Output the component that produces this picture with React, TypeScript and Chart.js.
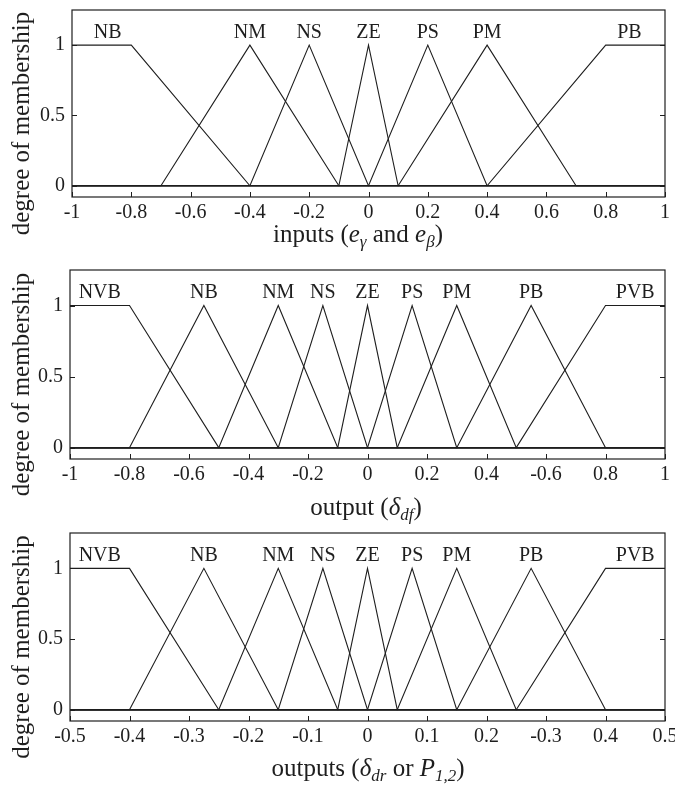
import React, { useEffect, useRef } from "react";
import { Chart, registerables } from "chart.js";

Chart.register(...registerables);

// ---------- Panel 1: inputs ----------
const p1Names = ["NB", "NM", "NS", "ZE", "PS", "PM", "PB"];
const p1Xs = [
  [-1, -0.8, -0.4, 1],
  [-1, -0.7, -0.4, -0.1, 1],
  [-1, -0.4, -0.2, 0, 1],
  [-1, -0.1, 0, 0.1, 1],
  [-1, 0, 0.2, 0.4, 1],
  [-1, 0.1, 0.4, 0.7, 1],
  [-1, 0.4, 0.8, 1],
];
const p1Mus = [
  [1, 1, 0, 0],
  [0, 0, 1, 0, 0],
  [0, 0, 1, 0, 0],
  [0, 0, 1, 0, 0],
  [0, 0, 1, 0, 0],
  [0, 0, 1, 0, 0],
  [0, 0, 1, 1],
];
const p1LabelAt = [-0.88, -0.4, -0.2, 0, 0.2, 0.4, 0.88];
const p1XTicks = [-1, -0.8, -0.6, -0.4, -0.2, 0, 0.2, 0.4, 0.6, 0.8, 1];
const p1XTickLabels = ["-1", "-0.8", "-0.6", "-0.4", "-0.2", "0", "0.2", "0.4", "0.6", "0.8", "1"];

// ---------- Panel 2: output delta_df ----------
const p2Names = ["NVB", "NB", "NM", "NS", "ZE", "PS", "PM", "PB", "PVB"];
const p2Xs = [
  [-1, -0.8, -0.5, 1],
  [-1, -0.8, -0.55, -0.3, 1],
  [-1, -0.5, -0.3, -0.1, 1],
  [-1, -0.3, -0.15, 0, 1],
  [-1, -0.1, 0, 0.1, 1],
  [-1, 0, 0.15, 0.3, 1],
  [-1, 0.1, 0.3, 0.5, 1],
  [-1, 0.3, 0.55, 0.8, 1],
  [-1, 0.5, 0.8, 1],
];
const p2Mus = [
  [1, 1, 0, 0],
  [0, 0, 1, 0, 0],
  [0, 0, 1, 0, 0],
  [0, 0, 1, 0, 0],
  [0, 0, 1, 0, 0],
  [0, 0, 1, 0, 0],
  [0, 0, 1, 0, 0],
  [0, 0, 1, 0, 0],
  [0, 0, 1, 1],
];
const p2LabelAt = [-0.9, -0.55, -0.3, -0.15, 0, 0.15, 0.3, 0.55, 0.9];
const p2XTicks = [-1, -0.8, -0.6, -0.4, -0.2, 0, 0.2, 0.4, 0.6, 0.8, 1];
const p2XTickLabels = ["-1", "-0.8", "-0.6", "-0.4", "-0.2", "0", "0.2", "0.4", "-0.6", "0.8", "1"];

// ---------- Panel 3: outputs delta_dr or P1,2 ----------
const p3Names = ["NVB", "NB", "NM", "NS", "ZE", "PS", "PM", "PB", "PVB"];
const p3Xs = [
  [-0.5, -0.4, -0.25, 0.5],
  [-0.5, -0.4, -0.275, -0.15, 0.5],
  [-0.5, -0.25, -0.15, -0.05, 0.5],
  [-0.5, -0.15, -0.075, 0, 0.5],
  [-0.5, -0.05, 0, 0.05, 0.5],
  [-0.5, 0, 0.075, 0.15, 0.5],
  [-0.5, 0.05, 0.15, 0.25, 0.5],
  [-0.5, 0.15, 0.275, 0.4, 0.5],
  [-0.5, 0.25, 0.4, 0.5],
];
const p3Mus = [
  [1, 1, 0, 0],
  [0, 0, 1, 0, 0],
  [0, 0, 1, 0, 0],
  [0, 0, 1, 0, 0],
  [0, 0, 1, 0, 0],
  [0, 0, 1, 0, 0],
  [0, 0, 1, 0, 0],
  [0, 0, 1, 0, 0],
  [0, 0, 1, 1],
];
const p3LabelAt = [-0.45, -0.275, -0.15, -0.075, 0, 0.075, 0.15, 0.275, 0.45];
const p3XTicks = [-0.5, -0.4, -0.3, -0.2, -0.1, 0, 0.1, 0.2, 0.3, 0.4, 0.5];
const p3XTickLabels = ["-0.5", "-0.4", "-0.3", "-0.2", "-0.1", "0", "0.1", "0.2", "-0.3", "0.4", "0.5"];

// shared y axis
const yTicks = [0, 0.5, 1];
const yTickLabels = ["0", "0.5", "1"];
const yTitle = "degree of membership";

type Run = { t: string; it?: boolean; sub?: boolean };
const p1Title: Run[] = [
  { t: "inputs (" },
  { t: "e", it: true },
  { t: "γ", it: true, sub: true },
  { t: " and " },
  { t: "e", it: true },
  { t: "β", it: true, sub: true },
  { t: ")" },
];
const p2Title: Run[] = [
  { t: "output (" },
  { t: "δ", it: true },
  { t: "df", it: true, sub: true },
  { t: ")" },
];
const p3Title: Run[] = [
  { t: "outputs (" },
  { t: "δ", it: true },
  { t: "dr", it: true, sub: true },
  { t: " or " },
  { t: "P", it: true },
  { t: "1,2", it: true, sub: true },
  { t: ")" },
];

const INK = "#1e1e1e";
const SERIF = "'Liberation Serif', 'Times New Roman', serif";
const W = 675;
const H = 262;

type Spec = {
  names: string[];
  xs: number[][];
  mus: number[][];
  labelAt: number[];
  xTicks: number[];
  xTickLabels: string[];
  xMin: number;
  xMax: number;
  title: Run[];
  area: { left: number; right: number; top: number; bottom: number };
  titleX: number;
  titleY: number;
  yTitleDy: number;
  canvasTop: number;
};

const specs: Spec[] = [
  {
    names: p1Names, xs: p1Xs, mus: p1Mus, labelAt: p1LabelAt,
    xTicks: p1XTicks, xTickLabels: p1XTickLabels, xMin: -1, xMax: 1,
    title: p1Title,
    area: { left: 72, right: 665, top: 10, bottom: 197 },
    titleX: 358, titleY: 242, yTitleDy: 20, canvasTop: 0,
  },
  {
    names: p2Names, xs: p2Xs, mus: p2Mus, labelAt: p2LabelAt,
    xTicks: p2XTicks, xTickLabels: p2XTickLabels, xMin: -1, xMax: 1,
    title: p2Title,
    area: { left: 70, right: 665, top: 8, bottom: 197 },
    titleX: 366, titleY: 253, yTitleDy: 20, canvasTop: 262,
  },
  {
    names: p3Names, xs: p3Xs, mus: p3Mus, labelAt: p3LabelAt,
    xTicks: p3XTicks, xTickLabels: p3XTickLabels, xMin: -0.5, xMax: 0.5,
    title: p3Title,
    area: { left: 70, right: 665, top: 9, bottom: 197 },
    titleX: 368, titleY: 252, yTitleDy: 20, canvasTop: 524,
  },
];

function drawRich(ctx: CanvasRenderingContext2D, runs: Run[], cx: number, baseY: number) {
  const big = 25;
  const small = 17;
  const fontOf = (r: Run) => `${r.it ? "italic " : ""}${r.sub ? small : big}px ${SERIF}`;
  let total = 0;
  const widths = runs.map((r) => {
    ctx.font = fontOf(r);
    const w = ctx.measureText(r.t).width;
    total += w;
    return w;
  });
  let x = cx - total / 2;
  ctx.textAlign = "left";
  ctx.textBaseline = "alphabetic";
  runs.forEach((r, i) => {
    ctx.font = fontOf(r);
    ctx.fillText(r.t, x, r.sub ? baseY + 5 : baseY);
    x += widths[i];
  });
}

function makeDecor(spec: Spec) {
  return {
    id: "decor",
    afterDraw(chart: any) {
      const { ctx, chartArea, scales } = chart;
      const { left, right, top, bottom } = chartArea;
      const xs = scales.x;
      const ys = scales.y;
      ctx.save();
      ctx.strokeStyle = INK;
      ctx.lineWidth = 1.2;
      ctx.strokeRect(left, top, right - left, bottom - top);
      ctx.lineWidth = 1;
      ctx.beginPath();
      yTicks.forEach((v) => {
        const py = Math.round(ys.getPixelForValue(v)) + 0.5;
        ctx.moveTo(left, py);
        ctx.lineTo(left + 5, py);
        ctx.moveTo(right - 5, py);
        ctx.lineTo(right, py);
      });
      spec.xTicks.forEach((v) => {
        const px = Math.round(xs.getPixelForValue(v)) + 0.5;
        ctx.moveTo(px, bottom);
        ctx.lineTo(px, bottom - 5);
      });
      ctx.stroke();

      ctx.fillStyle = INK;
      ctx.font = `20px ${SERIF}`;
      ctx.textAlign = "center";
      ctx.textBaseline = "alphabetic";
      spec.names.forEach((n, i) => {
        ctx.fillText(n, xs.getPixelForValue(spec.labelAt[i]), ys.getPixelForValue(1.05));
      });

      drawRich(ctx, spec.title, spec.titleX, spec.titleY);

      ctx.save();
      ctx.translate(22, (top + bottom) / 2 + spec.yTitleDy);
      ctx.rotate(-Math.PI / 2);
      ctx.font = `25px ${SERIF}`;
      ctx.textAlign = "center";
      ctx.textBaseline = "middle";
      ctx.fillText(yTitle, 0, 0);
      ctx.restore();
      ctx.restore();
    },
  };
}

function Panel({ spec }: { spec: Spec }) {
  const ref = useRef<HTMLCanvasElement>(null);
  useEffect(() => {
    const canvas = ref.current!;
    const datasets = spec.names.map((n, i) => ({
      label: n,
      data: spec.xs[i].map((x, j) => ({ x, y: spec.mus[i][j] })),
      borderColor: INK,
      borderWidth: 1.1,
      pointRadius: 0,
      tension: 0,
      fill: false,
      showLine: true,
    }));
    const chart = new Chart(canvas, {
      type: "line",
      data: { datasets },
      options: {
        animation: false,
        responsive: false,
        devicePixelRatio: 1,
        events: [],
        layout: {
          padding: { top: spec.area.top, right: W - spec.area.right, left: 0, bottom: 0 },
        },
        plugins: { legend: { display: false }, tooltip: { enabled: false } },
        scales: {
          x: {
            type: "linear",
            min: spec.xMin,
            max: spec.xMax,
            grid: { display: false, drawTicks: false },
            border: { display: false },
            afterBuildTicks: (s: any) => {
              s.ticks = spec.xTicks.map((v) => ({ value: v }));
            },
            afterFit: (s: any) => {
              s.height = H - spec.area.bottom;
              s.paddingLeft = 0;
              s.paddingRight = 0;
            },
            ticks: {
              autoSkip: false,
              maxRotation: 0,
              padding: 4,
              color: INK,
              font: { family: SERIF, size: 20 },
              callback: (_v: any, idx: number) => spec.xTickLabels[idx],
            },
          },
          y: {
            type: "linear",
            min: -0.08,
            max: 1.25,
            grid: { display: false, drawTicks: false },
            border: { display: false },
            afterBuildTicks: (s: any) => {
              s.ticks = yTicks.map((v) => ({ value: v }));
            },
            afterFit: (s: any) => {
              s.width = spec.area.left;
              s.paddingTop = 0;
              s.paddingBottom = 0;
            },
            ticks: {
              padding: 7,
              color: INK,
              font: { family: SERIF, size: 20 },
              callback: (_v: any, idx: number) => yTickLabels[idx],
            },
          },
        },
      },
      plugins: [makeDecor(spec)],
    } as any);
    return () => chart.destroy();
  }, [spec]);
  return (
    <canvas
      ref={ref}
      width={W}
      height={H}
      style={{ position: "absolute", left: 0, top: spec.canvasTop, width: W, height: H }}
    />
  );
}

export default function App() {
  return (
    <div style={{ position: "absolute", left: 0, top: 0, width: W, height: 786, background: "#fff" }}>
      {specs.map((s, i) => (
        <Panel key={i} spec={s} />
      ))}
    </div>
  );
}
